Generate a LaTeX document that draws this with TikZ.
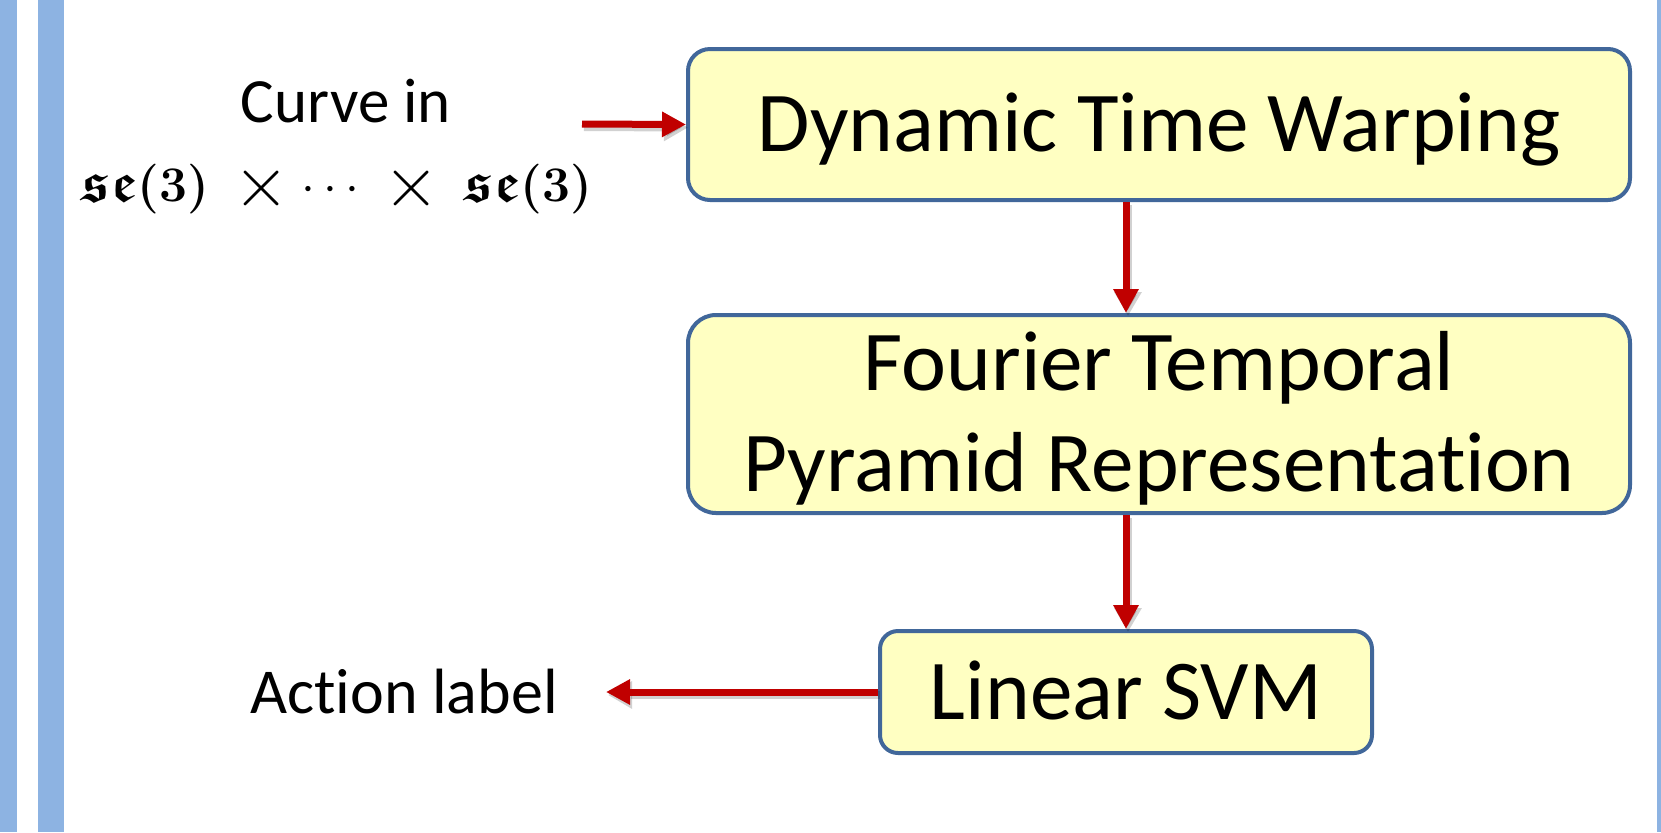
\documentclass[tikz,border=0pt]{standalone}
\usepackage{amsmath,amssymb,bm}
\usepackage[no-math]{fontspec}
\setmainfont{Carlito}[Ligatures=NoCommon]
\usetikzlibrary{arrows.meta}
\definecolor{barblue}{HTML}{8DB3E2}
\definecolor{boxfill}{HTML}{FFFFC2}
\definecolor{boxline}{HTML}{41679A}
\definecolor{arrred}{HTML}{C00000}
\newcommand{\bigtimes}{\mathbin{\vcenter{\hbox{\scalebox{1.45}{$\times$}}}}}
\tikzset{
  procbox/.style={draw=boxline, fill=boxfill, line width=2pt, align=center,
    font=\fontsize{42.6}{50.5}\selectfont, inner sep=0pt},
  arrline/.style={draw=arrred, line width=3.5pt, -{Triangle[length=12pt,width=12pt]}},
  arrshadow/.style={draw=black, opacity=0.18, line width=4pt, -{Triangle[length=12pt,width=13pt]}},
  plain/.style={inner sep=0pt, anchor=base}
}
\begin{document}
\begin{tikzpicture}[x=0.5pt,y=-0.5pt]
\useasboundingbox (0,0) rectangle (1661,832);
\fill[barblue] (0,0) rectangle (17,832);
\fill[barblue] (38,0) rectangle (64,832);
\fill[barblue] (1657,0) rectangle (1661,832);

\node[procbox, rounded corners=11pt, minimum width=471pt, minimum height=75.5pt,
  text height=27.4pt, text depth=0pt] (b1) at (1159,124.5) {Dynamic Time Warping};
\node[procbox, rounded corners=14pt, minimum width=471pt, minimum height=99pt,
  text height=77.9pt, text depth=0pt] (b2) at (1159,414)
  {Fourier Temporal\\Pyramid Representation};
\node[procbox, rounded corners=9pt, minimum width=246pt, minimum height=61pt,
  text height=27.4pt, text depth=0pt] (b3) at (1126,692) {Linear SVM};

\node[plain, font=\fontsize{31.5}{36}\selectfont] (curve) at (346,122) {Curve in};
\node[plain, font=\fontsize{28}{32}\selectfont] (space) at (337,201)
  {$\bm{\mathfrak{se}(3)}\;\bigtimes\cdots\;\bigtimes\;\bm{\mathfrak{se}(3)}$};
\node[plain, font=\fontsize{32}{38}\selectfont] (act) at (404,713) {Action label};

\coordinate (in) at (582,124);
\coordinate (out) at (606,692);

% shadows
\draw[arrshadow] ([xshift=1pt,yshift=-1.5pt]in) -- ([xshift=1pt,yshift=-1.5pt]b1.west);
\draw[arrshadow] ([xshift=1pt,yshift=-1.5pt]b1.south -| b3.center) -- ([xshift=1pt,yshift=-1.5pt]b2.north -| b3.center);
\draw[arrshadow] ([xshift=1pt,yshift=-1.5pt]b2.south -| b3.center) -- ([xshift=1pt,yshift=-1.5pt]b3.north);
\draw[arrshadow] ([xshift=1pt,yshift=-1.5pt]b3.west) -- ([xshift=1pt,yshift=-1.5pt]out);

\draw[arrline] (in) -- (b1.west);
\draw[arrline] (b1.south -| b3.center) -- (b2.north -| b3.center);
\draw[arrline] (b2.south -| b3.center) -- (b3.north);
\draw[arrline] (b3.west) -- (out);
\end{tikzpicture}
\end{document}
